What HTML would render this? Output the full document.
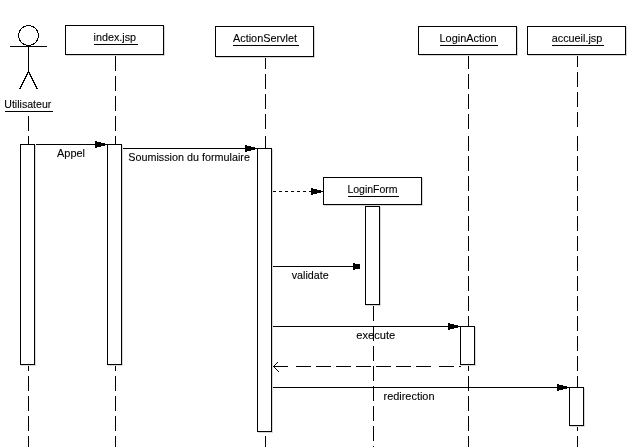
<!DOCTYPE html>
<html><head><meta charset="utf-8"><title>Diagramme de séquence</title>
<style>
html,body{margin:0;padding:0;background:#fff;}
body{width:630px;height:447px;overflow:hidden;}
svg{display:block;filter:grayscale(1);}
text{font-family:"Liberation Sans",sans-serif;font-size:11px;fill:#000;stroke:#000;stroke-width:0.1px;}
.l{stroke:#000;stroke-width:1;fill:none;shape-rendering:crispEdges;}
.b{stroke:#000;stroke-width:1;fill:#fff;shape-rendering:crispEdges;}
.sh{stroke:#d8d8d8;stroke-width:1;fill:none;shape-rendering:crispEdges;}
.s{stroke:#000;stroke-width:1;fill:none;}
.a{fill:#000;stroke:none;shape-rendering:crispEdges;}
</style></head><body>
<svg width="630" height="447" viewBox="0 0 630 447">
<rect x="0" y="0" width="630" height="447" fill="#fff"/>

<line class="l" x1="28.5" y1="116" x2="28.5" y2="131"/><line class="l" x1="28.5" y1="136" x2="28.5" y2="151"/><line class="l" x1="28.5" y1="156" x2="28.5" y2="171"/><line class="l" x1="28.5" y1="176" x2="28.5" y2="191"/><line class="l" x1="28.5" y1="196" x2="28.5" y2="211"/><line class="l" x1="28.5" y1="216" x2="28.5" y2="231"/><line class="l" x1="28.5" y1="236" x2="28.5" y2="251"/><line class="l" x1="28.5" y1="256" x2="28.5" y2="271"/><line class="l" x1="28.5" y1="276" x2="28.5" y2="291"/><line class="l" x1="28.5" y1="296" x2="28.5" y2="311"/><line class="l" x1="28.5" y1="316" x2="28.5" y2="331"/><line class="l" x1="28.5" y1="336" x2="28.5" y2="351"/><line class="l" x1="28.5" y1="356" x2="28.5" y2="371"/><line class="l" x1="28.5" y1="376" x2="28.5" y2="391"/><line class="l" x1="28.5" y1="396" x2="28.5" y2="411"/><line class="l" x1="28.5" y1="416" x2="28.5" y2="431"/><line class="l" x1="28.5" y1="436" x2="28.5" y2="447"/>
<line class="l" x1="115.5" y1="56" x2="115.5" y2="71"/><line class="l" x1="115.5" y1="76" x2="115.5" y2="91"/><line class="l" x1="115.5" y1="96" x2="115.5" y2="111"/><line class="l" x1="115.5" y1="116" x2="115.5" y2="131"/><line class="l" x1="115.5" y1="136" x2="115.5" y2="151"/><line class="l" x1="115.5" y1="156" x2="115.5" y2="171"/><line class="l" x1="115.5" y1="176" x2="115.5" y2="191"/><line class="l" x1="115.5" y1="196" x2="115.5" y2="211"/><line class="l" x1="115.5" y1="216" x2="115.5" y2="231"/><line class="l" x1="115.5" y1="236" x2="115.5" y2="251"/><line class="l" x1="115.5" y1="256" x2="115.5" y2="271"/><line class="l" x1="115.5" y1="276" x2="115.5" y2="291"/><line class="l" x1="115.5" y1="296" x2="115.5" y2="311"/><line class="l" x1="115.5" y1="316" x2="115.5" y2="331"/><line class="l" x1="115.5" y1="336" x2="115.5" y2="351"/><line class="l" x1="115.5" y1="356" x2="115.5" y2="371"/><line class="l" x1="115.5" y1="376" x2="115.5" y2="391"/><line class="l" x1="115.5" y1="396" x2="115.5" y2="411"/><line class="l" x1="115.5" y1="416" x2="115.5" y2="431"/><line class="l" x1="115.5" y1="436" x2="115.5" y2="447"/>
<line class="l" x1="265.5" y1="57" x2="265.5" y2="69"/><line class="l" x1="265.5" y1="74" x2="265.5" y2="89"/><line class="l" x1="265.5" y1="94" x2="265.5" y2="109"/><line class="l" x1="265.5" y1="114" x2="265.5" y2="129"/><line class="l" x1="265.5" y1="136" x2="265.5" y2="151"/><line class="l" x1="265.5" y1="156" x2="265.5" y2="171"/><line class="l" x1="265.5" y1="176" x2="265.5" y2="191"/><line class="l" x1="265.5" y1="196" x2="265.5" y2="211"/><line class="l" x1="265.5" y1="216" x2="265.5" y2="231"/><line class="l" x1="265.5" y1="236" x2="265.5" y2="251"/><line class="l" x1="265.5" y1="256" x2="265.5" y2="271"/><line class="l" x1="265.5" y1="276" x2="265.5" y2="291"/><line class="l" x1="265.5" y1="296" x2="265.5" y2="311"/><line class="l" x1="265.5" y1="316" x2="265.5" y2="331"/><line class="l" x1="265.5" y1="336" x2="265.5" y2="351"/><line class="l" x1="265.5" y1="356" x2="265.5" y2="371"/><line class="l" x1="265.5" y1="376" x2="265.5" y2="391"/><line class="l" x1="265.5" y1="396" x2="265.5" y2="411"/><line class="l" x1="265.5" y1="416" x2="265.5" y2="431"/><line class="l" x1="265.5" y1="436" x2="265.5" y2="447"/>
<line class="l" x1="373.5" y1="306" x2="373.5" y2="321"/><line class="l" x1="373.5" y1="326" x2="373.5" y2="341"/><line class="l" x1="373.5" y1="346" x2="373.5" y2="361"/><line class="l" x1="373.5" y1="366" x2="373.5" y2="381"/><line class="l" x1="373.5" y1="386" x2="373.5" y2="401"/><line class="l" x1="373.5" y1="406" x2="373.5" y2="421"/><line class="l" x1="373.5" y1="426" x2="373.5" y2="441"/><line class="l" x1="373.5" y1="446" x2="373.5" y2="447"/>
<line class="l" x1="468.5" y1="56" x2="468.5" y2="69"/><line class="l" x1="468.5" y1="74" x2="468.5" y2="89"/><line class="l" x1="468.5" y1="94" x2="468.5" y2="109"/><line class="l" x1="468.5" y1="114" x2="468.5" y2="129"/><line class="l" x1="468.5" y1="136" x2="468.5" y2="151"/><line class="l" x1="468.5" y1="156" x2="468.5" y2="171"/><line class="l" x1="468.5" y1="176" x2="468.5" y2="191"/><line class="l" x1="468.5" y1="196" x2="468.5" y2="211"/><line class="l" x1="468.5" y1="216" x2="468.5" y2="231"/><line class="l" x1="468.5" y1="236" x2="468.5" y2="251"/><line class="l" x1="468.5" y1="256" x2="468.5" y2="271"/><line class="l" x1="468.5" y1="276" x2="468.5" y2="291"/><line class="l" x1="468.5" y1="296" x2="468.5" y2="311"/><line class="l" x1="468.5" y1="316" x2="468.5" y2="331"/><line class="l" x1="468.5" y1="336" x2="468.5" y2="351"/><line class="l" x1="468.5" y1="356" x2="468.5" y2="371"/><line class="l" x1="468.5" y1="376" x2="468.5" y2="391"/><line class="l" x1="468.5" y1="396" x2="468.5" y2="411"/><line class="l" x1="468.5" y1="416" x2="468.5" y2="431"/><line class="l" x1="468.5" y1="436" x2="468.5" y2="447"/>
<line class="l" x1="577.5" y1="56" x2="577.5" y2="67"/><line class="l" x1="577.5" y1="72" x2="577.5" y2="87"/><line class="l" x1="577.5" y1="92" x2="577.5" y2="107"/><line class="l" x1="577.5" y1="112" x2="577.5" y2="127"/><line class="l" x1="577.5" y1="136" x2="577.5" y2="151"/><line class="l" x1="577.5" y1="156" x2="577.5" y2="171"/><line class="l" x1="577.5" y1="176" x2="577.5" y2="191"/><line class="l" x1="577.5" y1="196" x2="577.5" y2="211"/><line class="l" x1="577.5" y1="216" x2="577.5" y2="231"/><line class="l" x1="577.5" y1="236" x2="577.5" y2="251"/><line class="l" x1="577.5" y1="256" x2="577.5" y2="271"/><line class="l" x1="577.5" y1="276" x2="577.5" y2="291"/><line class="l" x1="577.5" y1="296" x2="577.5" y2="311"/><line class="l" x1="577.5" y1="316" x2="577.5" y2="331"/><line class="l" x1="577.5" y1="336" x2="577.5" y2="351"/><line class="l" x1="577.5" y1="356" x2="577.5" y2="371"/><line class="l" x1="577.5" y1="376" x2="577.5" y2="391"/><line class="l" x1="577.5" y1="396" x2="577.5" y2="411"/><line class="l" x1="577.5" y1="416" x2="577.5" y2="431"/><line class="l" x1="577.5" y1="436" x2="577.5" y2="447"/>
<circle class="l" cx="28.5" cy="35.5" r="10"/>
<line class="l" x1="10" y1="46.5" x2="47" y2="46.5"/>
<line class="l" x1="28.5" y1="46" x2="28.5" y2="72.5"/>
<line class="l" x1="28.5" y1="71.5" x2="19.5" y2="89.5"/>
<line class="l" x1="28.5" y1="71.5" x2="37.5" y2="89.5"/>
<text x="4.3" y="108" textLength="47" lengthAdjust="spacingAndGlyphs">Utilisateur</text><line class="l" x1="5" y1="111.5" x2="53" y2="111.5" />
<path class="sh" d="M164.5 26V56M66 55.5H165"/><rect class="b" x="65.5" y="25.5" width="98" height="29"/>
<text x="93.5" y="41" textLength="42.6" lengthAdjust="spacingAndGlyphs">index.jsp</text><line class="l" x1="94" y1="44.5" x2="138" y2="44.5" />
<path class="sh" d="M314.5 27V58M216 57.5H315"/><rect class="b" x="215.5" y="26.5" width="98" height="30"/>
<text x="233" y="42" textLength="64" lengthAdjust="spacingAndGlyphs">ActionServlet</text><line class="l" x1="233" y1="45.5" x2="299" y2="45.5" />
<path class="sh" d="M517.5 27V56M419 55.5H518"/><rect class="b" x="418.5" y="26.5" width="98" height="28"/>
<text x="439.5" y="42" textLength="57.1" lengthAdjust="spacingAndGlyphs">LoginAction</text><line class="l" x1="440" y1="45.5" x2="498" y2="45.5" />
<path class="sh" d="M626.5 27V56M528 55.5H627"/><rect class="b" x="527.5" y="26.5" width="98" height="28"/>
<text x="551.7" y="42" textLength="50.6" lengthAdjust="spacingAndGlyphs">accueil.jsp</text><line class="l" x1="552" y1="45.5" x2="604" y2="45.5" />
<path class="sh" d="M422.5 178V206M324 205.5H423"/><rect class="b" x="323.5" y="177.5" width="98" height="27"/>
<text x="347.4" y="193" textLength="50.2" lengthAdjust="spacingAndGlyphs">LoginForm</text><line class="l" x1="348" y1="196.5" x2="399" y2="196.5" />
<path class="sh" d="M35.5 145V366M21 365.5H36"/><rect class="b" x="20.5" y="144.5" width="14" height="220"/>
<path class="sh" d="M122.5 145V366M108 365.5H123"/><rect class="b" x="107.5" y="144.5" width="14" height="220"/>
<path class="sh" d="M272.5 149V433M258 432.5H273"/><rect class="b" x="257.5" y="148.5" width="14" height="283"/>
<path class="sh" d="M380.5 207V306M366 305.5H381"/><rect class="b" x="365.5" y="206.5" width="14" height="98"/>
<path class="sh" d="M475.5 327V366M461 365.5H476"/><rect class="b" x="460.5" y="326.5" width="14" height="38"/>
<path class="sh" d="M584.5 388V427M570 426.5H585"/><rect class="b" x="569.5" y="387.5" width="14" height="38"/>
<line class="l" x1="36" y1="144.5" x2="107" y2="144.5" />
<rect class="a" x="95" y="141" width="2" height="7"/><rect class="a" x="97" y="142" width="4" height="5"/><rect class="a" x="101" y="143" width="4" height="3"/>
<text x="57" y="157" textLength="28" lengthAdjust="spacingAndGlyphs">Appel</text>
<line class="l" x1="123" y1="148.5" x2="257" y2="148.5" />
<rect class="a" x="245" y="145" width="2" height="7"/><rect class="a" x="247" y="146" width="4" height="5"/><rect class="a" x="251" y="147" width="4" height="3"/>
<text x="128.3" y="161" textLength="121.6" lengthAdjust="spacingAndGlyphs">Soumission du formulaire</text>
<line class="l" x1="273" y1="191.5" x2="323" y2="191.5" stroke-dasharray="3 3"/>
<rect class="a" x="311" y="188" width="2" height="7"/><rect class="a" x="313" y="189" width="4" height="5"/><rect class="a" x="317" y="190" width="4" height="3"/>
<line class="l" x1="273" y1="266.5" x2="353" y2="266.5" />
<rect class="a" x="353" y="263" width="2" height="7"/><rect class="a" x="355" y="264" width="5" height="5"/>
<text x="291.7" y="279" textLength="37" lengthAdjust="spacingAndGlyphs">validate</text>
<line class="l" x1="273" y1="326.5" x2="460" y2="326.5" />
<rect class="a" x="448" y="323" width="2" height="7"/><rect class="a" x="450" y="324" width="4" height="5"/><rect class="a" x="454" y="325" width="4" height="3"/>
<text x="356.3" y="339" textLength="39" lengthAdjust="spacingAndGlyphs">execute</text>
<line class="l" x1="273" y1="366.5" x2="288" y2="366.5" />
<line class="l" x1="296" y1="366.5" x2="311" y2="366.5" />
<line class="l" x1="316" y1="366.5" x2="331" y2="366.5" />
<line class="l" x1="336" y1="366.5" x2="351" y2="366.5" />
<line class="l" x1="356" y1="366.5" x2="371" y2="366.5" />
<line class="l" x1="376" y1="366.5" x2="391" y2="366.5" />
<line class="l" x1="396" y1="366.5" x2="411" y2="366.5" />
<line class="l" x1="416" y1="366.5" x2="431" y2="366.5" />
<line class="l" x1="439" y1="366.5" x2="454" y2="366.5" />
<line class="l" x1="459" y1="366.5" x2="461" y2="366.5" />
<polyline class="l" points="278,362 273.5,366.5 279,372"/>
<line class="l" x1="273" y1="387.5" x2="569" y2="387.5" />
<rect class="a" x="557" y="384" width="2" height="7"/><rect class="a" x="559" y="385" width="4" height="5"/><rect class="a" x="563" y="386" width="4" height="3"/>
<text x="383.5" y="400" textLength="51" lengthAdjust="spacingAndGlyphs">redirection</text>
</svg></body></html>
